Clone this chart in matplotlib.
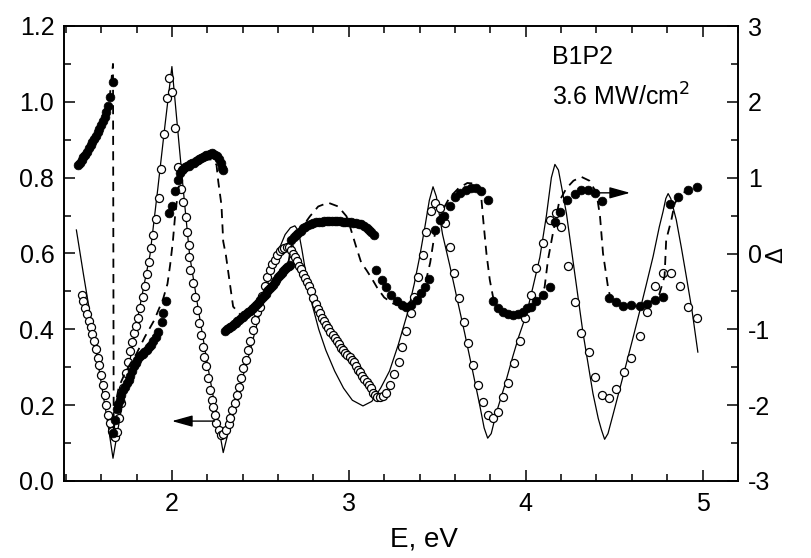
import matplotlib
matplotlib.use("Agg")
import matplotlib.pyplot as plt
from matplotlib.ticker import MultipleLocator, FormatStrFormatter

plt.rcParams['font.family'] = ['Liberation Sans', 'DejaVu Sans']
plt.rcParams['axes.unicode_minus'] = False

# ---- experimental transmission (open circles, left axis) ----
E_open = [1.490, 1.500, 1.510, 1.520, 1.530, 1.540, 1.550, 1.560, 1.570, 1.580,
          1.590, 1.600, 1.610, 1.620, 1.630, 1.640, 1.650, 1.660, 1.670, 1.680,
          1.690, 1.702, 1.714, 1.726, 1.738, 1.750, 1.762, 1.774, 1.786, 1.798,
          1.810, 1.822, 1.834, 1.846, 1.858, 1.870, 1.882, 1.895, 1.910, 1.925,
          1.940, 1.955, 1.970, 1.985, 2.000, 2.019, 2.034, 2.050, 2.065, 2.079,
          2.087, 2.094, 2.098, 2.105, 2.117, 2.130, 2.140, 2.151, 2.162, 2.173,
          2.183, 2.192, 2.205, 2.215, 2.224, 2.233, 2.243, 2.252, 2.267, 2.280,
          2.290, 2.305, 2.320, 2.330, 2.340, 2.356, 2.370, 2.380, 2.393, 2.403,
          2.418, 2.430, 2.443, 2.456, 2.470, 2.483, 2.497, 2.511, 2.525, 2.540,
          2.554, 2.568, 2.582, 2.595, 2.610, 2.623, 2.636, 2.648, 2.660, 2.672,
          2.685, 2.697, 2.709, 2.720, 2.731, 2.742, 2.753, 2.765, 2.777, 2.788,
          2.800, 2.812, 2.824, 2.836, 2.848, 2.860, 2.872, 2.884, 2.896, 2.908,
          2.920, 2.932, 2.944, 2.956, 2.968, 2.980, 2.992, 3.004, 3.016, 3.028,
          3.040, 3.052, 3.064, 3.076, 3.088, 3.100, 3.112, 3.124, 3.137, 3.150,
          3.162, 3.175, 3.194, 3.213, 3.232, 3.258, 3.284, 3.303, 3.326, 3.349,
          3.367, 3.392, 3.420, 3.439, 3.467, 3.488, 3.514, 3.542, 3.570, 3.595,
          3.621, 3.650, 3.674, 3.700, 3.730, 3.759, 3.784, 3.815, 3.843, 3.872,
          3.900, 3.932, 3.966, 3.994, 4.032, 4.060, 4.098, 4.136, 4.173, 4.200,
          4.240, 4.277, 4.315, 4.356, 4.394, 4.431, 4.470, 4.512, 4.554, 4.597,
          4.644, 4.685, 4.729, 4.776, 4.823, 4.870, 4.917, 4.968]
T_open = [0.490, 0.475, 0.457, 0.440, 0.423, 0.405, 0.387, 0.368, 0.347, 0.325,
          0.305, 0.280, 0.252, 0.228, 0.200, 0.175, 0.152, 0.132, 0.118, 0.116,
          0.130, 0.165, 0.205, 0.245, 0.285, 0.315, 0.343, 0.366, 0.390, 0.410,
          0.430, 0.455, 0.485, 0.515, 0.547, 0.578, 0.615, 0.650, 0.690, 0.746,
          0.823, 0.915, 1.010, 1.062, 1.027, 0.930, 0.828, 0.770, 0.735, 0.696,
          0.658, 0.623, 0.592, 0.557, 0.522, 0.486, 0.451, 0.416, 0.385, 0.354,
          0.328, 0.302, 0.271, 0.240, 0.214, 0.196, 0.174, 0.152, 0.135, 0.121,
          0.124, 0.135, 0.150, 0.166, 0.187, 0.205, 0.227, 0.249, 0.272, 0.297,
          0.320, 0.346, 0.370, 0.398, 0.425, 0.445, 0.460, 0.487, 0.513, 0.537,
          0.557, 0.571, 0.583, 0.596, 0.606, 0.611, 0.615, 0.617, 0.616, 0.610,
          0.600, 0.590, 0.580, 0.568, 0.558, 0.546, 0.535, 0.525, 0.514, 0.500,
          0.482, 0.466, 0.453, 0.442, 0.431, 0.421, 0.412, 0.403, 0.393, 0.384,
          0.376, 0.368, 0.361, 0.352, 0.345, 0.337, 0.332, 0.328, 0.320, 0.313,
          0.302, 0.294, 0.287, 0.278, 0.270, 0.262, 0.253, 0.244, 0.233, 0.226,
          0.222, 0.222, 0.224, 0.233, 0.253, 0.282, 0.315, 0.354, 0.396, 0.442,
          0.486, 0.539, 0.596, 0.658, 0.711, 0.733, 0.720, 0.680, 0.618, 0.548,
          0.482, 0.420, 0.363, 0.306, 0.253, 0.209, 0.174, 0.165, 0.183, 0.222,
          0.258, 0.310, 0.368, 0.429, 0.491, 0.561, 0.627, 0.689, 0.706, 0.670,
          0.568, 0.473, 0.390, 0.339, 0.273, 0.227, 0.218, 0.242, 0.288, 0.324,
          0.383, 0.447, 0.513, 0.548, 0.548, 0.515, 0.460, 0.430]

# ---- calculated transmission (solid line, left axis) ----
E_solid = [1.460, 1.500, 1.550, 1.600, 1.640, 1.667, 1.700, 1.750, 1.800, 1.850,
           1.876, 1.920, 1.960, 2.000, 2.040, 2.070, 2.100, 2.150, 2.200, 2.250,
           2.290, 2.330, 2.380, 2.440, 2.497, 2.550, 2.600, 2.640, 2.670, 2.695,
           2.715, 2.735, 2.760, 2.790, 2.830, 2.870, 2.920, 2.970, 3.020, 3.080,
           3.130, 3.180, 3.230, 3.280, 3.330, 3.370, 3.400, 3.430, 3.455, 3.476,
           3.495, 3.530, 3.570, 3.610, 3.655, 3.700, 3.740, 3.765, 3.785, 3.805,
           3.834, 3.880, 3.928, 3.960, 4.004, 4.040, 4.080, 4.117, 4.145, 4.165,
           4.185, 4.205, 4.230, 4.277, 4.324, 4.380, 4.410, 4.428, 4.446, 4.465,
           4.493, 4.530, 4.569, 4.605, 4.644, 4.680, 4.720, 4.755, 4.776, 4.792,
           4.805, 4.820, 4.851, 4.880, 4.908, 4.940, 4.973]
T_solid = [0.662, 0.545, 0.405, 0.260, 0.145, 0.060, 0.150, 0.285, 0.415, 0.535,
           0.596, 0.770, 0.935, 1.093, 0.890, 0.740, 0.596, 0.450, 0.310, 0.180,
           0.075, 0.150, 0.240, 0.340, 0.443, 0.535, 0.605, 0.650, 0.668, 0.673,
           0.660, 0.610, 0.540, 0.470, 0.400, 0.345, 0.290, 0.245, 0.213, 0.198,
           0.210, 0.245, 0.290, 0.360, 0.440, 0.520, 0.590, 0.670, 0.740, 0.776,
           0.750, 0.650, 0.570, 0.485, 0.390, 0.290, 0.200, 0.140, 0.113, 0.125,
           0.180, 0.250, 0.330, 0.380, 0.440, 0.510, 0.590, 0.700, 0.800, 0.835,
           0.820, 0.770, 0.706, 0.548, 0.390, 0.231, 0.165, 0.135, 0.110, 0.125,
           0.174, 0.240, 0.310, 0.375, 0.447, 0.515, 0.592, 0.670, 0.710, 0.745,
           0.758, 0.745, 0.689, 0.615, 0.539, 0.450, 0.340]

# ---- experimental Delta (filled circles, right axis) ----
E_filled = [1.470, 1.480, 1.490, 1.500, 1.510, 1.520, 1.530, 1.540, 1.550, 1.560,
            1.570, 1.580, 1.590, 1.600, 1.610, 1.620, 1.630, 1.640, 1.650, 1.665,
            1.668, 1.678, 1.688, 1.697, 1.706, 1.715, 1.725, 1.735, 1.745, 1.755,
            1.765, 1.775, 1.785, 1.795, 1.805, 1.815, 1.825, 1.835, 1.845, 1.857,
            1.870, 1.882, 1.894, 1.908, 1.923, 1.942, 1.951, 1.966, 1.985, 1.998,
            2.017, 2.032, 2.045, 2.055, 2.065, 2.075, 2.085, 2.095, 2.105, 2.115,
            2.125, 2.135, 2.145, 2.155, 2.165, 2.175, 2.185, 2.195, 2.205, 2.215,
            2.225, 2.235, 2.245, 2.255, 2.265, 2.275, 2.285, 2.290, 2.300, 2.310,
            2.320, 2.330, 2.340, 2.350, 2.360, 2.370, 2.380, 2.390, 2.400, 2.410,
            2.420, 2.430, 2.440, 2.450, 2.460, 2.470, 2.480, 2.490, 2.500, 2.510,
            2.520, 2.530, 2.540, 2.550, 2.560, 2.570, 2.580, 2.590, 2.600, 2.610,
            2.620, 2.630, 2.640, 2.650, 2.660, 2.667, 2.676, 2.690, 2.702, 2.714,
            2.727, 2.740, 2.755, 2.770, 2.785, 2.800, 2.815, 2.830, 2.846, 2.860,
            2.875, 2.890, 2.905, 2.920, 2.935, 2.950, 2.965, 2.980, 2.995, 3.010,
            3.025, 3.040, 3.055, 3.070, 3.085, 3.100, 3.115, 3.128, 3.140,
            3.156, 3.185, 3.213, 3.241, 3.270, 3.298, 3.326, 3.354, 3.383, 3.410,
            3.432, 3.455, 3.486, 3.514, 3.540, 3.570, 3.600, 3.630, 3.660, 3.690,
            3.720, 3.750, 3.787, 3.815, 3.843, 3.870, 3.900, 3.930, 3.955, 3.985,
            4.007, 4.030, 4.060, 4.098, 4.136, 4.164, 4.195, 4.235, 4.277, 4.315,
            4.350, 4.390, 4.433, 4.473, 4.512, 4.550, 4.597, 4.644, 4.683, 4.729,
            4.776, 4.815, 4.862, 4.917, 4.968]
D_filled = [1.170, 1.200, 1.235, 1.270, 1.305, 1.345, 1.385, 1.425, 1.465, 1.510,
            1.555, 1.600, 1.645, 1.690, 1.745, 1.800, 1.860, 1.950, 2.070, 2.260,
            -2.370, -2.200, -2.050, -1.990, -1.930, -1.865, -1.805, -1.755, -1.710, -1.665,
            -1.610, -1.555, -1.490, -1.445, -1.405, -1.370, -1.345, -1.320, -1.300, -1.270,
            -1.230, -1.200, -1.160, -1.100, -1.030, -0.900, -0.790, -0.630, 0.530, 0.620,
            0.820, 0.970, 1.060, 1.100, 1.120, 1.135, 1.150, 1.160, 1.175, 1.190,
            1.200, 1.215, 1.230, 1.245, 1.260, 1.270, 1.285, 1.295, 1.305, 1.315,
            1.320, 1.315, 1.300, 1.280, 1.240, 1.190, 1.130, 1.100, -1.020, -1.000,
            -0.985, -0.970, -0.955, -0.935, -0.915, -0.895, -0.875, -0.855, -0.835, -0.815,
            -0.795, -0.775, -0.755, -0.735, -0.715, -0.690, -0.665, -0.640, -0.615, -0.590,
            -0.560, -0.530, -0.500, -0.470, -0.440, -0.410, -0.375, -0.345, -0.315, -0.285,
            -0.255, -0.225, -0.200, -0.180, -0.160, -0.150, 0.180, 0.220, 0.245, 0.270,
            0.300, 0.330, 0.355, 0.380, 0.395, 0.405, 0.412, 0.418, 0.420, 0.422,
            0.424, 0.425, 0.425, 0.424, 0.423, 0.422, 0.420, 0.418, 0.415, 0.412,
            0.408, 0.403, 0.395, 0.385, 0.365, 0.340, 0.310, 0.280, 0.250,
            -0.220, -0.350, -0.440, -0.550, -0.630, -0.680, -0.700, -0.680, -0.610, -0.520,
            -0.440, -0.330, 0.310, 0.440, 0.490, 0.620, 0.740, 0.800, 0.840, 0.860,
            0.860, 0.820, 0.710, -0.630, -0.720, -0.770, -0.800, -0.810, -0.800, -0.770,
            -0.720, -0.700, -0.630, -0.550, -0.440, 0.420, 0.550, 0.710, 0.790, 0.840,
            0.840, 0.800, 0.690, -0.590, -0.640, -0.690, -0.685, -0.690, -0.665, -0.610,
            -0.570, 0.650, 0.750, 0.840, 0.880]

# ---- calculated Delta (dashed line, right axis) ----
E_dash = [1.460, 1.500, 1.550, 1.600, 1.630, 1.650, 1.667, 1.671, 1.680, 1.700,
          1.740, 1.800, 1.847, 1.900, 1.950, 1.975, 1.990, 2.005, 2.020, 2.040,
          2.060, 2.100, 2.150, 2.200, 2.230, 2.252, 2.262, 2.280, 2.290, 2.305,
          2.346, 2.400, 2.450, 2.500, 2.550, 2.600, 2.640, 2.660, 2.675, 2.700,
          2.740, 2.780, 2.827, 2.883, 2.940, 2.987, 3.010, 3.040, 3.070, 3.100,
          3.130, 3.160, 3.200, 3.250, 3.300, 3.350, 3.400, 3.430, 3.460, 3.480,
          3.500, 3.530, 3.570, 3.620, 3.670, 3.720, 3.745, 3.760, 3.778, 3.797,
          3.815, 3.850, 3.900, 3.950, 4.000, 4.050, 4.090, 4.107, 4.126, 4.154,
          4.190, 4.230, 4.270, 4.315, 4.360, 4.400, 4.420, 4.437, 4.465, 4.480,
          4.520, 4.580, 4.650, 4.700, 4.750, 4.785, 4.794, 4.823, 4.842, 4.870,
          4.920, 4.970]
D_dash = [1.130, 1.260, 1.460, 1.690, 1.870, 2.100, 2.500, -2.400, -2.000, -1.760,
          -1.550, -1.320, -1.100, -0.880, -0.600, -0.400, -0.150, 0.150, 0.550, 0.900,
          1.060, 1.140, 1.200, 1.240, 1.240, 1.170, 0.950, 0.640, 0.160, -0.020,
          -0.700, -0.840, -0.740, -0.620, -0.470, -0.310, -0.190, -0.100, 0.100, 0.240,
          0.360, 0.490, 0.620, 0.670, 0.620, 0.490, 0.330, 0.100, -0.120, -0.220,
          -0.330, -0.450, -0.580, -0.660, -0.690, -0.660, -0.560, -0.420, -0.120, 0.180,
          0.400, 0.570, 0.740, 0.860, 0.930, 0.920, 0.840, 0.440, 0.000, -0.350,
          -0.570, -0.720, -0.790, -0.800, -0.750, -0.660, -0.560, -0.440, -0.080, 0.270,
          0.690, 0.860, 0.960, 1.010, 0.960, 0.800, 0.490, 0.000, -0.440, -0.600,
          -0.670, -0.700, -0.690, -0.640, -0.580, -0.300, 0.180, 0.440, 0.660, 0.760,
          0.850, 0.880]

# annotations
arrow_left = (2.24, 2.00, 0.158)   # x_from, x_to, y (left axis)
arrow_right = (4.37, 4.59, 0.80)   # x_from, x_to, y (right axis)
label_sample = "B1P2"
label_power = "3.6 MW/cm$^2$"

fig = plt.figure(figsize=(8.11, 5.58), dpi=100)
ax = fig.add_axes([64/811, 1-481/558, (738-64)/811, (481-26)/558])
ax2 = ax.twinx()

ax.plot(E_solid, T_solid, '-', color='black', lw=0.9, zorder=2)
ax.plot(E_open, T_open, 'o', mfc='white', mec='black', ms=5.8, mew=0.9, zorder=3)
ax2.plot(E_dash, D_dash, '--', color='black', lw=1.3, dashes=(5, 3.5), zorder=2)
ax2.plot(E_filled, D_filled, 'o', mfc='black', mec='black', ms=6.3, mew=0.5, zorder=3)

ax.set_xlim(1.39, 5.2)
ax.set_ylim(0, 1.2)
ax2.set_ylim(-3, 3)

ax.xaxis.set_major_locator(MultipleLocator(1))
ax.xaxis.set_minor_locator(MultipleLocator(0.2))
ax.yaxis.set_major_locator(MultipleLocator(0.2))
ax.yaxis.set_minor_locator(MultipleLocator(0.1))
ax.yaxis.set_major_formatter(FormatStrFormatter('%.1f'))
ax2.yaxis.set_major_locator(MultipleLocator(1))
ax2.yaxis.set_minor_locator(MultipleLocator(0.5))

for a in (ax, ax2):
    for s in a.spines.values():
        s.set_linewidth(1.2)
ax.tick_params(axis='x', which='both', direction='in', top=True, bottom=True,
               labelsize=18, pad=8, width=1.1)
ax.tick_params(axis='x', which='major', length=8)
ax.tick_params(axis='x', which='minor', length=5)
ax.tick_params(axis='y', which='both', direction='in', left=True, right=False,
               labelsize=18, pad=7, width=1.1)
ax.tick_params(axis='y', which='major', length=8)
ax.tick_params(axis='y', which='minor', length=5)
ax2.tick_params(axis='y', which='both', direction='in', labelsize=18, pad=7, width=1.1)
ax2.tick_params(axis='y', which='major', length=8)
ax2.tick_params(axis='y', which='minor', length=5)

ax.annotate('', xy=(arrow_left[1], arrow_left[2]), xytext=(arrow_left[0], arrow_left[2]),
            arrowprops=dict(arrowstyle='-|>,head_length=0.9,head_width=0.25',
                            color='black', lw=1.0, mutation_scale=14, shrinkA=0, shrinkB=0))
ax2.annotate('', xy=(arrow_right[1], arrow_right[2]), xytext=(arrow_right[0], arrow_right[2]),
             arrowprops=dict(arrowstyle='-|>,head_length=0.9,head_width=0.25',
                             color='black', lw=1.0, mutation_scale=14, shrinkA=0, shrinkB=0))

fig.text(552/811, 1-57/558, label_sample, fontsize=18, va='center', ha='left')
fig.text(552/811, 1-97/558, label_power, fontsize=18, va='center', ha='left')
fig.text(424/811, 1-540/558, "E, eV", fontsize=20, ha='center', va='center')
fig.text(776/811, 1-255/558, "Δ", fontsize=17, ha='center', va='center', rotation=90)

fig.savefig("out.png", dpi=100)
